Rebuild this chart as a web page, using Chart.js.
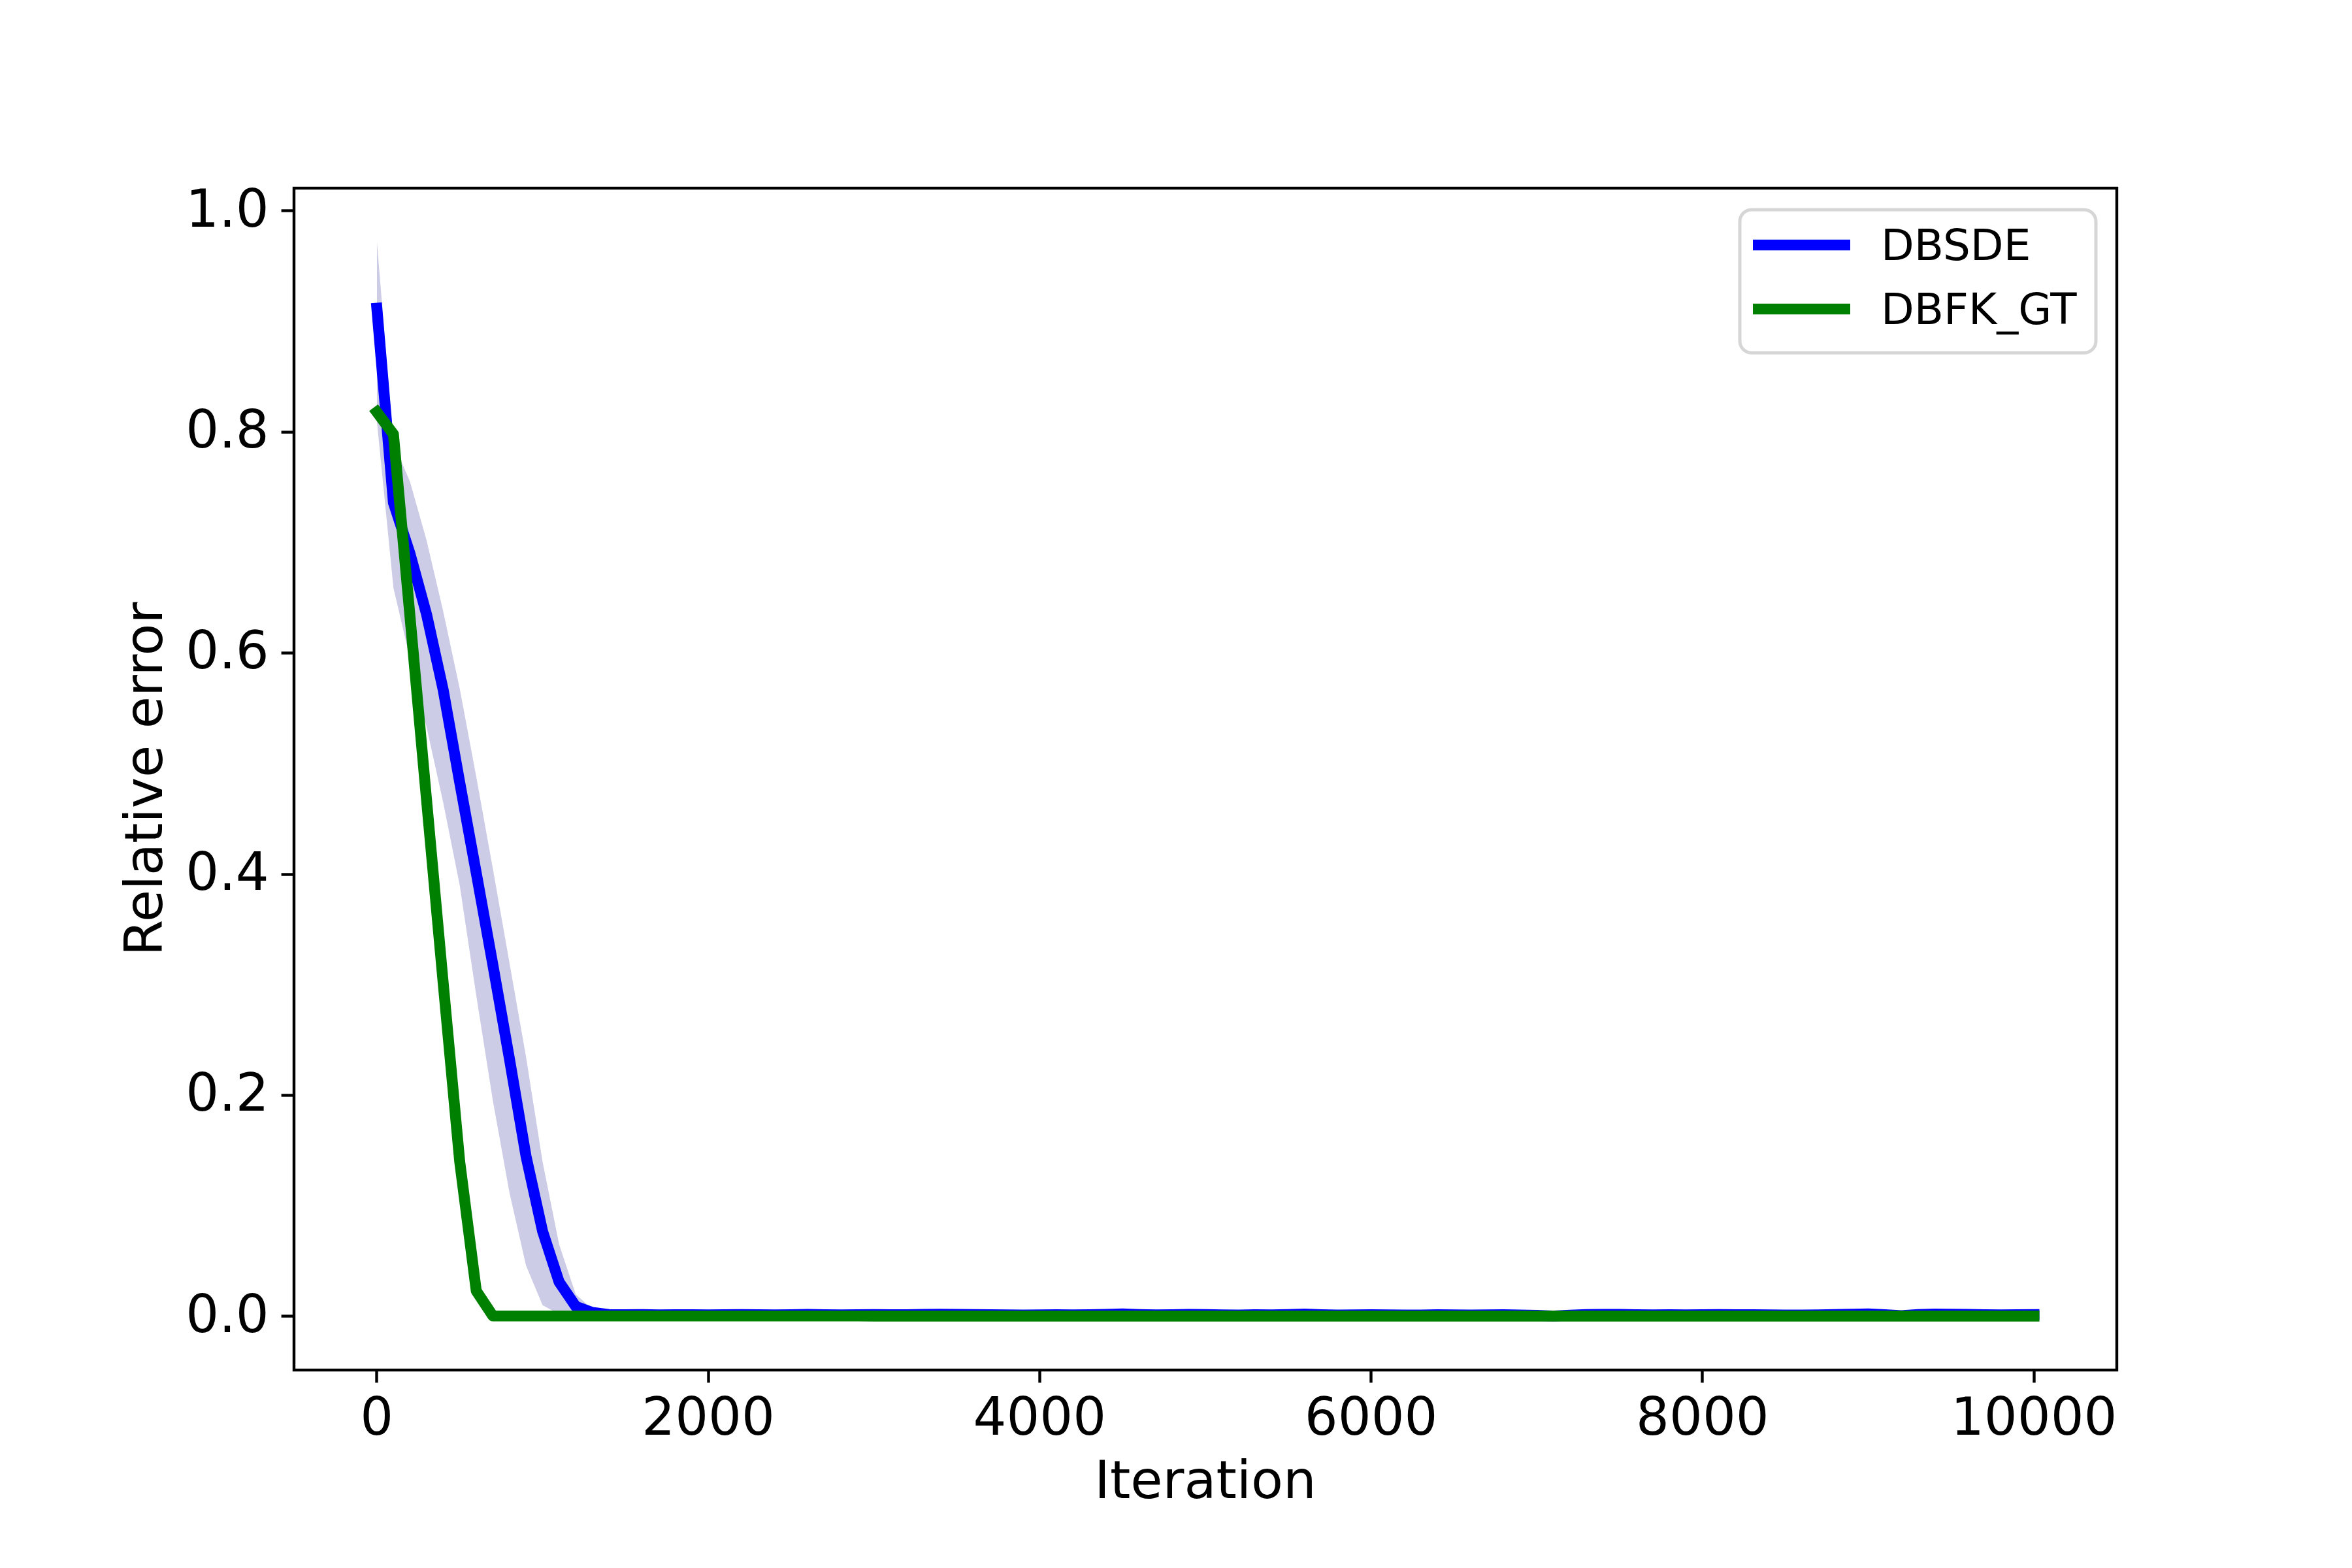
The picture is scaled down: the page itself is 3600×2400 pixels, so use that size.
<!DOCTYPE html>
<html>
<head>
<meta charset="utf-8">
<title>Relative error</title>
<script src="https://cdn.jsdelivr.net/npm/chart.js"></script>
<style>
  html, body { margin: 0; padding: 0; background: #ffffff; }
  #wrap { width: 3600px; height: 2400px; }
</style>
</head>
<body>
<div id="wrap"><canvas id="myChart" width="3600" height="2400"></canvas></div>
<script>
/*
* Data
*/

var iterations = [
  0, 100, 200, 300, 400, 500, 600, 700, 800, 900,
  1000, 1100, 1200, 1300, 1400, 1500, 1600, 1700, 1800, 1900,
  2000, 2100, 2200, 2300, 2400, 2500, 2600, 2700, 2800, 2900,
  3000, 3100, 3200, 3300, 3400, 3500, 3600, 3700, 3800, 3900,
  4000, 4100, 4200, 4300, 4400, 4500, 4600, 4700, 4800, 4900,
  5000, 5100, 5200, 5300, 5400, 5500, 5600, 5700, 5800, 5900,
  6000, 6100, 6200, 6300, 6400, 6500, 6600, 6700, 6800, 6900,
  7000, 7100, 7200, 7300, 7400, 7500, 7600, 7700, 7800, 7900,
  8000, 8100, 8200, 8300, 8400, 8500, 8600, 8700, 8800, 8900,
  9000, 9100, 9200, 9300, 9400, 9500, 9600, 9700, 9800, 9900,
  10000
];

var dbsde = [
  0.912, 0.736, 0.690, 0.635, 0.567, 0.483, 0.401, 0.318, 0.233, 0.145,
  0.077, 0.031, 0.009, 0.0035, 0.0016, 0.0014, 0.0016, 0.0013, 0.0014, 0.0015,
  0.0013, 0.0014, 0.0016, 0.0015, 0.0013, 0.0014, 0.0017, 0.0015, 0.0013, 0.0014,
  0.0016, 0.0015, 0.0014, 0.0017, 0.0019, 0.0018, 0.0016, 0.0014, 0.0013, 0.0012,
  0.0013, 0.0014, 0.0013, 0.0015, 0.0017, 0.0021, 0.0016, 0.0013, 0.0014, 0.0017,
  0.0016, 0.0013, 0.0012, 0.0014, 0.0013, 0.0016, 0.0020, 0.0015, 0.0012, 0.0013,
  0.0015, 0.0013, 0.0011, 0.0012, 0.0014, 0.0013, 0.0012, 0.0013, 0.0015, 0.0012,
  0.0008, 0.0003, 0.0010, 0.0016, 0.0018, 0.0017, 0.0015, 0.0013, 0.0014, 0.0013,
  0.0015, 0.0016, 0.0014, 0.0015, 0.0013, 0.0011, 0.0012, 0.0013, 0.0016, 0.0019,
  0.0022, 0.0014, 0.0006, 0.0016, 0.0020, 0.0019, 0.0017, 0.0014, 0.0013, 0.0015,
  0.0016
];

var dbsdeUpper = [
  0.973, 0.790, 0.755, 0.702, 0.638, 0.568, 0.488, 0.405, 0.320, 0.235,
  0.140, 0.065, 0.020, 0.0065, 0.0028, 0.0024, 0.0026, 0.0022, 0.0023, 0.0025,
  0.0022, 0.0023, 0.0026, 0.0025, 0.0022, 0.0023, 0.0027, 0.0025, 0.0022, 0.0023,
  0.0026, 0.0025, 0.0023, 0.0027, 0.0030, 0.0028, 0.0026, 0.0023, 0.0022, 0.0021,
  0.0022, 0.0023, 0.0022, 0.0025, 0.0027, 0.0032, 0.0026, 0.0022, 0.0023, 0.0027,
  0.0026, 0.0022, 0.0021, 0.0023, 0.0022, 0.0026, 0.0031, 0.0025, 0.0021, 0.0022,
  0.0025, 0.0022, 0.0020, 0.0021, 0.0023, 0.0022, 0.0021, 0.0022, 0.0025, 0.0021,
  0.0016, 0.0010, 0.0019, 0.0026, 0.0028, 0.0027, 0.0025, 0.0022, 0.0023, 0.0022,
  0.0025, 0.0026, 0.0023, 0.0025, 0.0022, 0.0020, 0.0021, 0.0022, 0.0026, 0.0029,
  0.0033, 0.0023, 0.0013, 0.0026, 0.0031, 0.0029, 0.0027, 0.0023, 0.0022, 0.0025,
  0.0026
];

var dbsdeLower = [
  0.810, 0.659, 0.595, 0.533, 0.465, 0.390, 0.290, 0.195, 0.112, 0.046,
  0.010, 0.002, 0.0008, 0.0006, 0.0006, 0.0005, 0.0006, 0.0005, 0.0005, 0.0006,
  0.0005, 0.0005, 0.0006, 0.0006, 0.0005, 0.0005, 0.0007, 0.0006, 0.0005, 0.0005,
  0.0006, 0.0006, 0.0005, 0.0007, 0.0008, 0.0007, 0.0006, 0.0005, 0.0005, 0.0004,
  0.0005, 0.0005, 0.0005, 0.0006, 0.0007, 0.0009, 0.0006, 0.0005, 0.0005, 0.0007,
  0.0006, 0.0005, 0.0004, 0.0005, 0.0005, 0.0006, 0.0008, 0.0006, 0.0004, 0.0005,
  0.0006, 0.0005, 0.0004, 0.0004, 0.0005, 0.0005, 0.0004, 0.0005, 0.0006, 0.0004,
  0.0002, 0.0000, 0.0003, 0.0006, 0.0007, 0.0007, 0.0006, 0.0005, 0.0005, 0.0005,
  0.0006, 0.0006, 0.0005, 0.0006, 0.0005, 0.0004, 0.0004, 0.0005, 0.0006, 0.0008,
  0.0009, 0.0005, 0.0001, 0.0006, 0.0008, 0.0008, 0.0007, 0.0005, 0.0005, 0.0006,
  0.0006
];

var dbfkGt = [
  0.818, 0.798, 0.633, 0.467, 0.302, 0.140, 0.023, 0.0004, 0.0003, 0.0003,
  0.0003, 0.0003, 0.0003, 0.0003, 0.0003, 0.0003, 0.0003, 0.0003, 0.0003, 0.0003,
  0.0003, 0.0003, 0.0003, 0.0003, 0.0003, 0.0003, 0.0003, 0.0003, 0.0003, 0.0003,
  0.0002, 0.0002, 0.0002, 0.0002, 0.0002, 0.0002, 0.0002, 0.0002, 0.0002, 0.0002,
  0.0002, 0.0002, 0.0002, 0.0002, 0.0002, 0.0002, 0.0002, 0.0002, 0.0002, 0.0002,
  0.0002, 0.0002, 0.0002, 0.0002, 0.0002, 0.0002, 0.0002, 0.0002, 0.0002, 0.0002,
  0.0002, 0.0002, 0.0002, 0.0002, 0.0002, 0.0002, 0.0002, 0.0002, 0.0002, 0.0002,
  0.0002, 0.0002, 0.0002, 0.0002, 0.0002, 0.0002, 0.0002, 0.0002, 0.0002, 0.0002,
  0.0002, 0.0002, 0.0002, 0.0002, 0.0002, 0.0002, 0.0002, 0.0002, 0.0002, 0.0002,
  0.0002, 0.0002, 0.0002, 0.0002, 0.0002, 0.0002, 0.0002, 0.0002, 0.0002, 0.0002,
  0.0002
];

var xTicks = [0, 2000, 4000, 6000, 8000, 10000];
var yTicks = [0.0, 0.2, 0.4, 0.6, 0.8, 1.0];

/*
* Helpers
*/

function points(ys) {
  return iterations.map(function(x, i) { return {x: x, y: ys[i]}; });
}

// box round the plot, like the four matplotlib spines
var frame = {
  id: 'frame',
  afterDatasetsDraw: function(chart) {
    var a = chart.chartArea, ctx = chart.ctx;
    ctx.save();
    ctx.strokeStyle = '#000000';
    ctx.lineWidth = 4.4;
    ctx.strokeRect(a.left, a.top, a.right - a.left, a.bottom - a.top);
    ctx.restore();
  }
};

// legend in the upper right corner, with a rounded grey frame
var legendBox = {
  id: 'legendBox',
  afterDraw: function(chart) {
    var ctx = chart.ctx;
    var items = chart.data.datasets.filter(function(d) { return d.inLegend; });
    ctx.save();
    ctx.beginPath();
    ctx.roundRect(2663, 321, 545, 219, 18);
    ctx.fillStyle = 'rgba(255,255,255,0.8)';
    ctx.fill();
    ctx.lineWidth = 5;
    ctx.strokeStyle = '#d6d6d6';
    ctx.stroke();
    items.forEach(function(d, i) {
      var y = 375 + i * 98;
      ctx.beginPath();
      ctx.moveTo(2683, y);
      ctx.lineTo(2832, y);
      ctx.lineCap = 'butt';
      ctx.lineWidth = 16.7;
      ctx.strokeStyle = d.borderColor;
      ctx.stroke();
      ctx.fillStyle = '#000000';
      ctx.font = '66px "DejaVu Sans"';
      ctx.textBaseline = 'alphabetic';
      ctx.textAlign = 'left';
      ctx.fillText(d.label, 2879, y + 23);
    });
    ctx.restore();
  }
};

/*
* Chart
*/

Chart.defaults.font.family = '"DejaVu Sans"';
Chart.defaults.color = '#000000';

var ctx = document.getElementById('myChart').getContext('2d');
var chart = new Chart(ctx, {
  type: 'line',
  data: {
    datasets: [{
      label: 'upper',
      data: points(dbsdeUpper),
      fill: '+1',
      backgroundColor: 'rgba(0,0,128,0.2)',
      borderColor: 'rgba(0,0,0,0)',
      borderWidth: 0,
      pointRadius: 0,
      order: 3
    }, {
      label: 'lower',
      data: points(dbsdeLower),
      fill: false,
      borderColor: 'rgba(0,0,0,0)',
      borderWidth: 0,
      pointRadius: 0,
      order: 4
    }, {
      label: 'DBSDE',
      inLegend: true,
      data: points(dbsde),
      borderColor: '#0000ff',
      borderWidth: 16.7,
      borderCapStyle: 'square',
      borderJoinStyle: 'round',
      pointRadius: 0,
      fill: false,
      order: 2
    }, {
      label: 'DBFK_GT',
      inLegend: true,
      data: points(dbfkGt),
      borderColor: '#008000',
      borderWidth: 16.7,
      borderCapStyle: 'square',
      borderJoinStyle: 'round',
      pointRadius: 0,
      fill: false,
      order: 1
    }]
  },
  options: {
    responsive: false,
    animation: false,
    devicePixelRatio: 1,
    layout: {
      autoPadding: false,
      padding: {left: 0, right: 360, top: 288, bottom: 0}
    },
    plugins: {
      legend: {display: false},
      tooltip: {enabled: false}
    },
    scales: {
      x: {
        type: 'linear',
        min: -500,
        max: 10500,
        afterBuildTicks: function(s) { s.ticks = xTicks.map(function(v) { return {value: v}; }); },
        afterFit: function(s) { s.height = 303; },
        border: {display: false},
        grid: {drawOnChartArea: false, drawTicks: true, tickLength: 19.4, tickWidth: 4.4, tickColor: '#000000'},
        ticks: {
          font: {size: 80},
          padding: 10.6,
          maxRotation: 0,
          autoSkip: false,
          callback: function(v) { return String(v); }
        },
        title: {
          display: true,
          text: 'Iteration',
          font: {size: 80, lineHeight: 1},
          padding: {top: 0, bottom: 88}
        }
      },
      y: {
        type: 'linear',
        min: -0.0486,
        max: 1.0206,
        afterBuildTicks: function(s) { s.ticks = yTicks.map(function(v) { return {value: v}; }); },
        afterFit: function(s) { s.width = 450; },
        border: {display: false},
        grid: {drawOnChartArea: false, drawTicks: true, tickLength: 19.4, tickWidth: 4.4, tickColor: '#000000'},
        ticks: {
          font: {size: 80},
          padding: 19,
          labelOffset: 3,
          autoSkip: false,
          callback: function(v) { return v.toFixed(1); }
        },
        title: {
          display: true,
          text: 'Relative error',
          font: {size: 80, lineHeight: 1},
          padding: {top: 187, bottom: 0}
        }
      }
    }
  },
  plugins: [frame, legendBox]
});
</script>
</body>
</html>
